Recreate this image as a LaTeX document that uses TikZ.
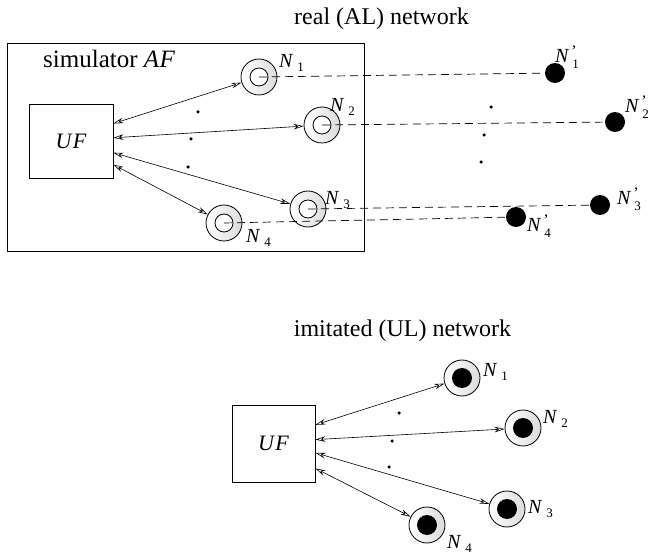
\documentclass[tikz,border=0pt]{standalone}
\usepackage{fontspec}
\setmainfont{Liberation Serif}
\usetikzlibrary{arrows.meta,calc}
\newcommand{\nlab}[1]{\textit{N}\kern4pt\raisebox{-4pt}{\fontsize{13}{13}\selectfont #1}}
\newcommand{\plab}[1]{\textit{N}\makebox[0pt][l]{\kern2pt\raisebox{6pt}{\fontsize{16}{16}\selectfont\textquoteright}}\kern3pt\raisebox{-6pt}{\fontsize{13}{13}\selectfont #1}}
\begin{document}
\begin{tikzpicture}[x=1pt,y=-1pt,
  txt/.style={font=\fontsize{24}{28}\selectfont, inner sep=0pt},
  lab/.style={font=\fontsize{20}{24}\selectfont, inner sep=0pt, anchor=base west},
  ufbox/.style={draw, line width=0.8pt, minimum width=84pt, minimum height=74pt, inner sep=0pt, font=\fontsize{22}{26}\selectfont\itshape},
  simnode/.style={circle, draw, line width=0.8pt, left color=white, right color=gray!28, minimum size=36pt, inner sep=0pt},
  innerring/.style={draw, line width=0.8pt, fill=white},
  realnode/.style={circle, fill=black, minimum size=20pt, inner sep=0pt},
  link/.style={line width=0.6pt, {Stealth[open,length=10pt,width=5.5pt]}-{Stealth[open,length=10pt,width=5.5pt]}},
  dline/.style={line width=0.7pt, dash pattern=on 8pt off 5pt},
  dotnode/.style={circle, fill=black, minimum size=3.5pt, inner sep=0pt}
]
\useasboundingbox (0,0) rectangle (649,559);

% ---------- top: real (AL) network ----------
\node[txt, anchor=base] (t1) at (381.5,25) {real (AL) network};
\node[draw, line width=0.8pt, minimum width=357pt, minimum height=208pt, inner sep=0pt] (sim) at (185.5,147) {};
\node[txt, anchor=base west, font=\fontsize{25}{28}\selectfont] (simt) at (43,68) {simulator \textit{A\kern0.5pt F}};
\node[ufbox] (UF) at (71,141.5) {U\kern1.5pt F};

\node[simnode] (S1) at (259,77) {};
\node[simnode] (S2) at (322,125) {};
\node[simnode] (S3) at (308,209) {};
\node[simnode] (S4) at (224,223) {};
\foreach \s in {S1,S2,S3,S4} {\draw[innerring] (\s.center) circle[radius=9];}

\node[realnode] (R1) at (555,73) {};
\node[realnode] (R2) at (615,122) {};
\node[realnode] (R3) at (600,205) {};
\node[realnode] (R4) at (516,217) {};

\draw[dline] (S1.center) -- (R1);
\draw[dline] (S2.center) -- (R2);
\draw[dline] (S3.center) -- (R3);
\draw[dline] (S4.center) -- (R4);

\coordinate (a1) at ($(UF.north east)!0.26!(UF.south east)$);
\coordinate (a2) at ($(UF.north east)!0.45!(UF.south east)$);
\coordinate (a3) at ($(UF.north east)!0.65!(UF.south east)$);
\coordinate (a4) at ($(UF.north east)!0.81!(UF.south east)$);
\draw[link] (a1) -- (S1);
\draw[link] (a2) -- (S2);
\draw[link] (a3) -- (S3);
\draw[link] (a4) -- (S4);

\node[dotnode] (d1) at (198,112) {};
\node[dotnode] (d2) at (191,139) {};
\node[dotnode] (d3) at (188,167) {};
\node[dotnode] (e1) at (491,107) {};
\node[dotnode] (e2) at (484,135) {};
\node[dotnode] (e3) at (481,162) {};

\node[lab] (L1) at (279,68) {\nlab{1}};
\node[lab] (L2) at (330,112) {\nlab{2}};
\node[lab] (L3) at (325,205) {\nlab{3}};
\node[lab] (L4) at (246,243) {\nlab{4}};

\node[lab] (P1) at (555,63) {\plab{1}};
\node[lab] (P2) at (625,113) {\plab{2}};
\node[lab] (P3) at (617,205) {\plab{3}};
\node[lab] (P4) at (527,232) {\plab{4}};

% ---------- bottom: imitated (UL) network ----------
\node[txt, anchor=base] (t2) at (402.5,337) {imitated (UL) network};
\node[ufbox, minimum width=83pt, minimum height=77pt] (UF2) at (273.5,443.5) {U\kern1.5pt F};

\node[simnode] (B1) at (462,378) {};
\node[simnode] (B2) at (523,428) {};
\node[simnode] (B3) at (507,509) {};
\node[simnode] (B4) at (427,525) {};
\foreach \s in {B1,B2,B3,B4} {\fill (\s.center) circle[radius=10];}

\coordinate (b1) at ($(UF2.north east)!0.26!(UF2.south east)$);
\coordinate (b2) at ($(UF2.north east)!0.45!(UF2.south east)$);
\coordinate (b3) at ($(UF2.north east)!0.62!(UF2.south east)$);
\coordinate (b4) at ($(UF2.north east)!0.82!(UF2.south east)$);
\draw[link] (b1) -- (B1);
\draw[link] (b2) -- (B2);
\draw[link] (b3) -- (B3);
\draw[link] (b4) -- (B4);

\node[dotnode] (f1) at (399,413) {};
\node[dotnode] (f2) at (392,441) {};
\node[dotnode] (f3) at (389,467) {};

\node[lab] (M1) at (483,377) {\nlab{1}};
\node[lab] (M2) at (543,423) {\nlab{2}};
\node[lab] (M3) at (528,513) {\nlab{3}};
\node[lab] (M4) at (447,548) {\nlab{4}};
\end{tikzpicture}
\end{document}
